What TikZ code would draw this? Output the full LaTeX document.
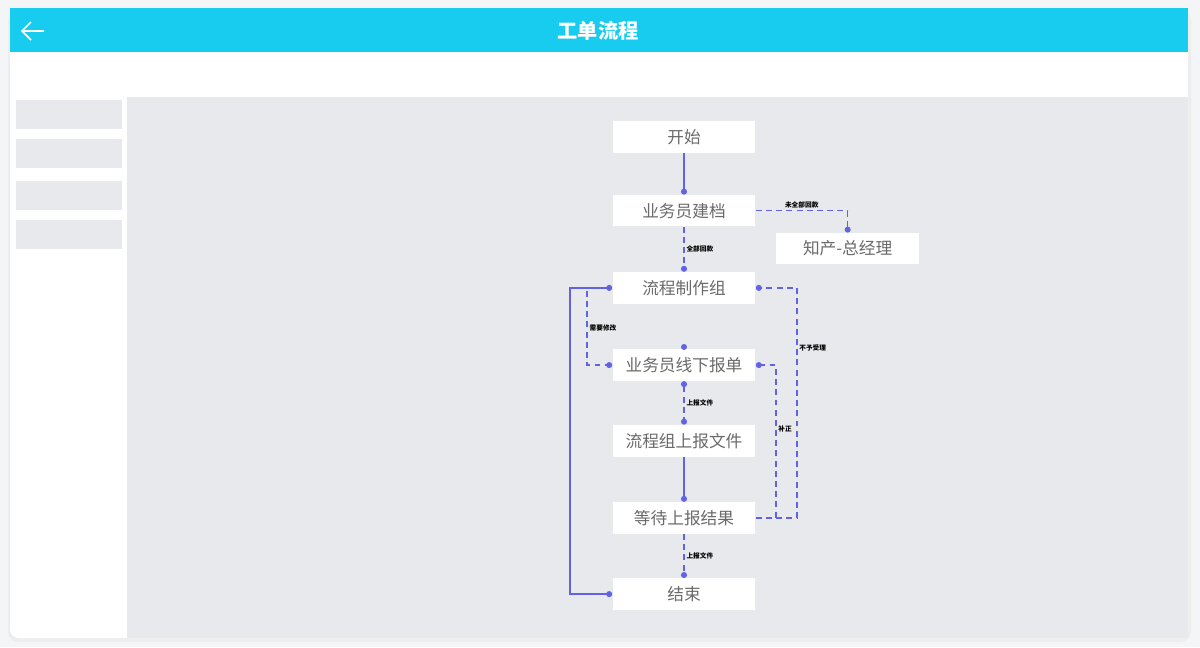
\documentclass[tikz,border=0pt]{standalone}
\usepackage{fontspec}
\newfontfamily\cjk{Noto Sans CJK SC}
\usetikzlibrary{arrows.meta,positioning,calc}
\definecolor{hdcyan}{HTML}{17CCEE}
\definecolor{pagegray}{HTML}{E8E9ED}
\definecolor{outerbg}{HTML}{F4F5F7}
\definecolor{flowblue}{HTML}{6262E6}
\definecolor{txtgray}{HTML}{6A6A6A}

\begin{document}
\begin{tikzpicture}[x=0.02cm,y=-0.02cm,
      box/.style={fill=white,minimum width=2.86cm,minimum height=0.63cm,inner sep=0pt,font=\cjk\fontsize{9.5}{11}\selectfont,text=txtgray},
      link/.style={draw=flowblue,line width=0.85pt},
      dashlink/.style={link,dash pattern=on 3.4pt off 2.4pt},
      arr/.style={-{Circle[length=3.4pt]},flowblue},
      arrs/.style={{Circle[length=3.4pt]}-{Circle[length=3.4pt]},flowblue},
      tag/.style={font=\cjk\fontsize{3.8}{4}\selectfont\bfseries,text=black,inner sep=1pt}]
    \useasboundingbox (0,0) rectangle (1200,647);
    % window frame
    \fill[outerbg] (0,0) rectangle (1200,647);
    \fill[black!7,rounded corners=6] (8,10) rectangle (1191,642);
    \fill[white,rounded corners=5] (10,8) rectangle (1188,638);
    \fill[hdcyan] (10,8) rectangle (1188,52);
    \fill[pagegray] (127,97) rectangle (1188,638);
    \foreach \y in {100,139,181,220}
      \fill[pagegray] (16,\y) rectangle (122,\y+29);
    \node[font=\cjk\bfseries\fontsize{11.5}{13}\selectfont,text=white] (title) at (598,31) {工单流程};
    \draw[white,line width=0.9pt] (22,31) -- (44,31) (31,22) -- (22,31) -- (31,40);

    % flow nodes
    \node[box] (start) at (684,137) {开始};
    \node[box,below=0.83cm of start] (jiandang) {业务员建档};
    \node[box,right=0.4cm of jiandang,yshift=-0.76cm] (zongjingli) {知产-总经理};
    \node[box,below=0.9cm of jiandang] (zhizuo) {流程制作组};
    \node[box,below=0.9cm of zhizuo] (baodan) {业务员线下报单};
    \node[box,below=0.87cm of baodan] (wenjian) {流程组上报文件};
    \node[box,below=0.9cm of wenjian] (dengdai) {等待上报结果};
    \node[box,below=0.88cm of dengdai] (jieshu) {结束};
    \coordinate (xiugai) at ($(zhizuo.west)+(-25,3)$);

    % connectors
    \draw[link,arr] (start) -- (jiandang);
    \draw[dashlink,arr] (jiandang.east) -| node[tag,above,pos=0.25] {未全部回款} (zongjingli.north);
    \draw[dashlink,arr] (jiandang) -- node[tag,right] {全部回款} (zhizuo);
    \draw[link,arrs] (zhizuo.west) -- ++(-42,0) |- (jieshu.west);
    \draw[dashlink,arr] (xiugai) |- node[tag,right,pos=0.25] {需要修改} (baodan.west);
    \draw[dashlink,arr] (dengdai.east) -- ++(41,0) |- node[tag,right,pos=0.37] {不予受理} (zhizuo.east);
    \draw[dashlink,arr] (dengdai.east) -- ++(20,0) |- node[tag,right,pos=0.29] {补正} (baodan.east);
    \fill[flowblue] ($(baodan.north)+(0,-2)$) circle (1.7pt);
    \draw[dashlink,arrs] (baodan) -- node[tag,right] {上报文件} (wenjian);
    \draw[link,arr] (wenjian) -- (dengdai);
    \draw[dashlink,arr] (dengdai) -- node[tag,right] {上报文件} (jieshu);
  \end{tikzpicture}
\end{document}
